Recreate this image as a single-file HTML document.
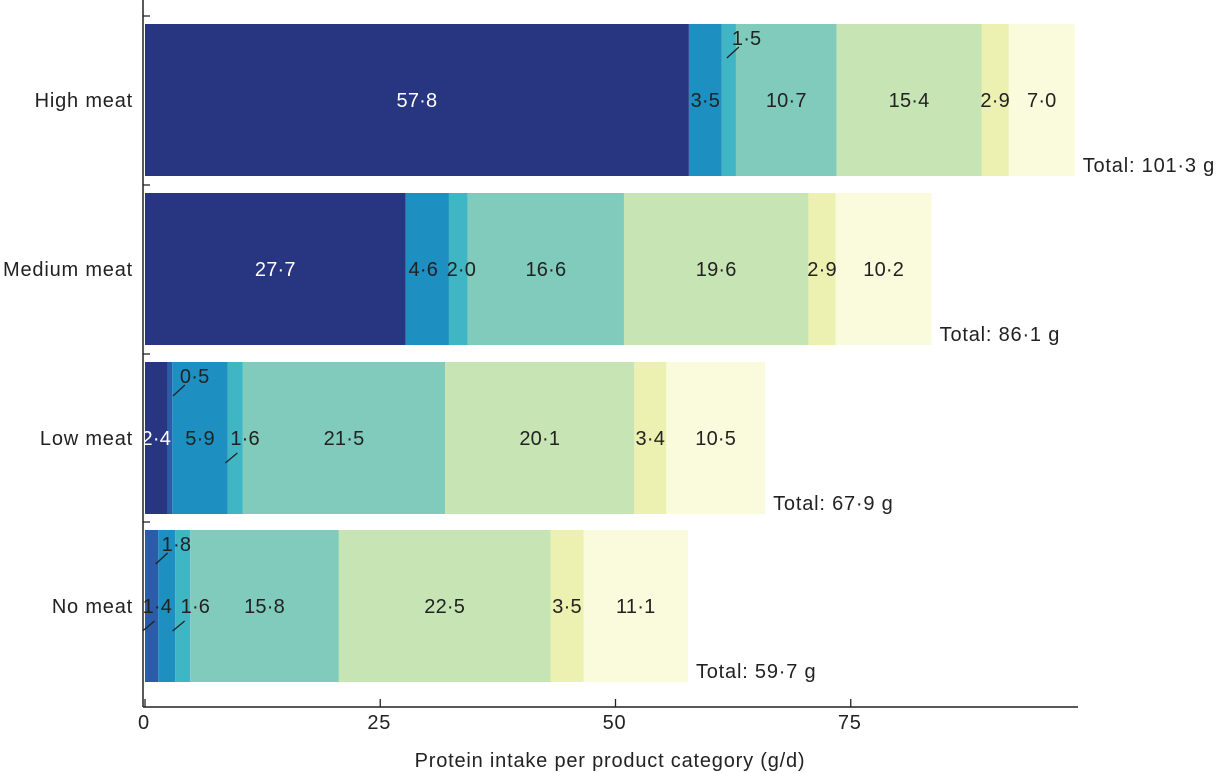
<!DOCTYPE html>
<html><head><meta charset="utf-8"><style>
body{margin:0;background:#fff;}
svg{display:block;font-family:"Liberation Sans",sans-serif;}
text{letter-spacing:0.8px;}
text.v{letter-spacing:0.2px;}
</style></head><body>
<svg id="c" width="1221" height="773"></svg>
<script>
const categories=["High meat","Medium meat","Low meat","No meat"];
const totals=["101·3","86·1","67·9","59·7"];
const s0=[57.8,27.7,2.4,0];
const s1=[0,0,0.5,1.4];
const s2=[3.5,4.6,5.9,1.8];
const s3=[1.5,2.0,1.6,1.6];
const s4=[10.7,16.6,21.5,15.8];
const s5=[15.4,19.6,20.1,22.5];
const s6=[2.9,2.9,3.4,3.5];
const s7=[7.0,10.2,10.5,11.1];
const xTicks=[0,25,50,75];
const series=[s0,s1,s2,s3,s4,s5,s6,s7];
const colors=["#283580","#2a5ca8","#1d8fc0","#40b5c4","#80cbbb","#c7e4b5","#ecf0b0","#fafadc"];
const svg=document.getElementById('c');
const NS="http://www.w3.org/2000/svg";
const X0=145,K=9.41;
const xs=v=>X0+v*K;
const barTop=[24,193,362,530],BH=152;
const FS=20;
function mk(t,a,p){const e=document.createElementNS(NS,t);for(const k in a)e.setAttribute(k,a[k]);(p||svg).appendChild(e);return e;}
function fmt(v){return v.toFixed(1).replace('.','·');}
// [position, text offset from segment centre, leader offset from text start]
function placement(i,j){
  if(i==0&&j==3) return ['top',3,-5];
  if(i==1&&j==2) return ['shift',-4,0];
  if(i==1&&j==3) return ['shift',3,0];
  if(i==2&&j==1) return ['top',10,-7];
  if(i==2&&j==3) return ['mid',-5,-5];
  if(i==3&&j==2) return ['top',-5,-6];
  if(i==3&&j==1) return ['mid',-9,0];
  if(i==3&&j==3) return ['mid',-2,-8];
  return null;
}
categories.forEach((cat,i)=>{
  const g=mk('g',{});
  
  
  let acc=0;
  const segs=[];
  series.forEach((s,j)=>{
    const v=s[i];
    if(v<=0){return;}
    const r=mk('rect',{x:xs(acc),y:barTop[i],width:v*K,height:BH,fill:colors[j]},g);
    
    
    segs.push({x:xs(acc),w:v*K,v:v,j:j});
    acc+=v;
  });
  const cy=barTop[i]+BH/2+7;
  segs.forEach(sg=>{
    const cx=sg.x+sg.w/2;
    let tx=cx,ty=cy,anchor='middle',lx=null;
    const p=placement(i,sg.j);
    if(p&&p[0]=='shift'){tx=cx+p[1];}
    else if(p){
      tx=cx+p[1];anchor='start';
      const l0=tx+p[2];
      if(p[0]=='top'){ty=barTop[i]+21;lx=[l0,barTop[i]+34,l0+12,barTop[i]+23];}
      else {ty=cy;lx=[l0,cy+18,l0+12,cy+8];}
    }
    const t=mk('text',{x:tx,y:ty,'font-size':FS,'text-anchor':anchor,fill:sg.j==0?'#fff':'#222','class':'v'},g);
    t.textContent=fmt(sg.v);
    
    
    if(lx){const l=mk('line',{x1:lx[0],y1:lx[1],x2:lx[2],y2:lx[3],stroke:'#222','stroke-width':1.3},g);
      
      }
  });
  const tt=mk('text',{x:xs(acc)+8,y:barTop[i]+BH-4,'font-size':FS,fill:'#222'},g);
  tt.textContent='Total: '+totals[i]+' g';
  
  
  const cl=mk('text',{x:133,y:barTop[i]+BH/2+7,'font-size':FS,'text-anchor':'end',fill:'#222'});
  cl.textContent=cat;
  
  
  const tk=mk('line',{x1:143,y1:barTop[i]-8,x2:150,y2:barTop[i]-8,stroke:'#222','stroke-width':1.3});
  
  
});
const ya=mk('line',{x1:143,y1:0,x2:143,y2:707,stroke:'#222','stroke-width':1.5});


const xa=mk('line',{x1:143,y1:707,x2:1078,y2:707,stroke:'#222','stroke-width':1.5});


xTicks.forEach(v=>{
  const l=mk('line',{x1:xs(v),y1:699,x2:xs(v),y2:707,stroke:'#222','stroke-width':1.3});
  
  
  const t=mk('text',{x:xs(v)-1,y:729,'font-size':FS,'text-anchor':'middle',fill:'#222'});
  t.textContent=v;
  
  
});
const at=mk('text',{x:610,y:767,'font-size':FS,'text-anchor':'middle',fill:'#222'});
at.textContent='Protein intake per product category (g/d)';


</script>
</body></html>
